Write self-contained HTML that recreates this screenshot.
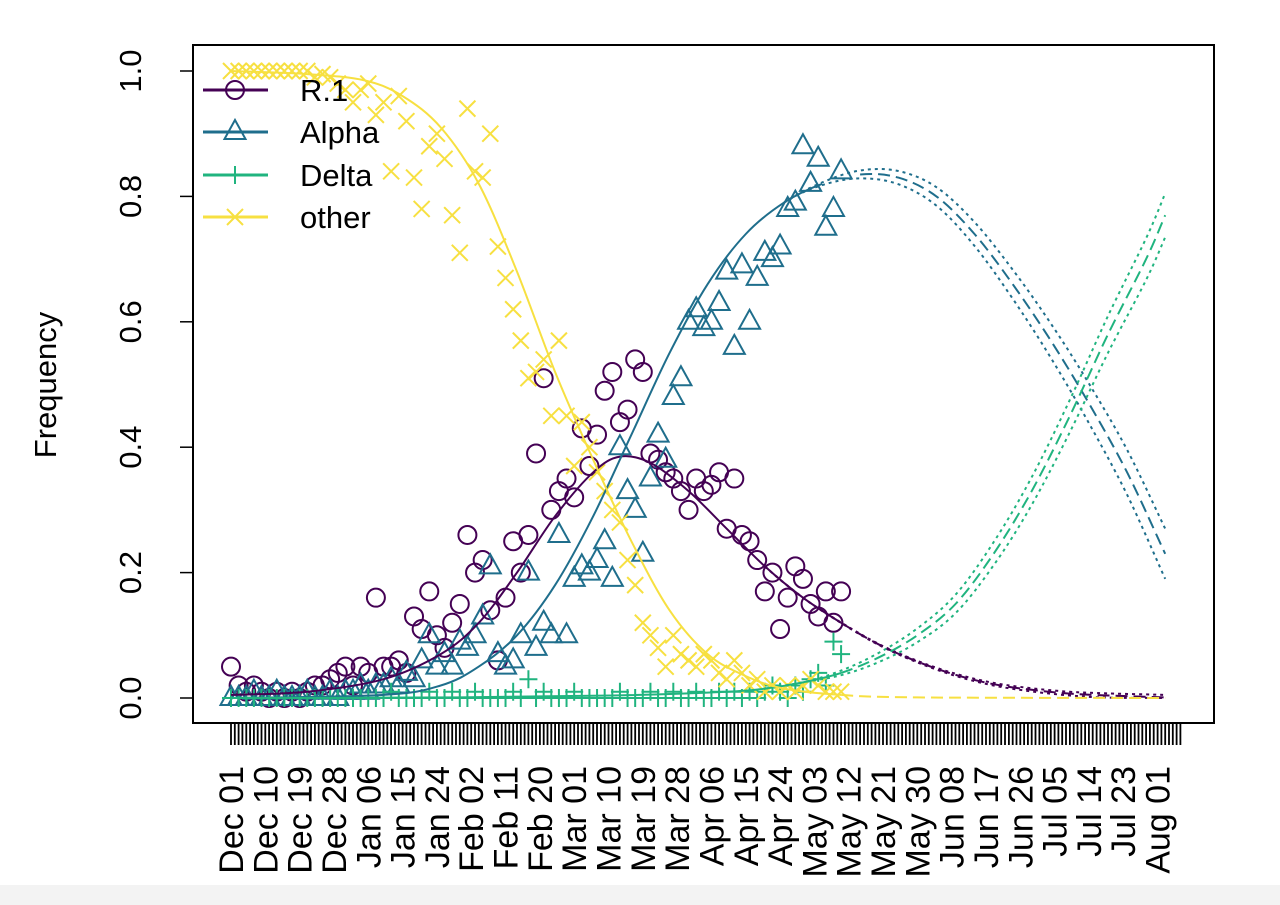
<!DOCTYPE html>
<html><head><meta charset="utf-8"><style>
html,body{margin:0;padding:0;background:#fff;}
svg{display:block;font-family:"Liberation Sans",Arial,sans-serif;}
</style></head><body>
<svg id="chart" width="1280" height="905" viewBox="0 0 1280 905" xmlns="http://www.w3.org/2000/svg">
<rect x="0" y="0" width="1280" height="905" fill="#fff"/>
<rect x="0" y="885" width="1280" height="20" fill="#f3f3f3"/>
<g id="plot"></g>
<rect x="193" y="45" width="1021" height="678" fill="none" stroke="#000" stroke-width="2"/>
<g id="axes"></g>
<text x="56" y="385" font-size="31" text-anchor="middle" transform="rotate(-90 56 385)">Frequency</text>
<g id="legend"></g>
</svg>
<script>
const yTicks=[0,0.2,0.4,0.6,0.8,1.0];
const yTickLabels=["0.0","0.2","0.4","0.6","0.8","1.0"];
const xLabels=["Dec 01","Dec 10","Dec 19","Dec 28","Jan 06","Jan 15","Jan 24","Feb 02","Feb 11","Feb 20","Mar 01","Mar 10","Mar 19","Mar 28","Apr 06","Apr 15","Apr 24","May 03","May 12","May 21","May 30","Jun 08","Jun 17","Jun 26","Jul 05","Jul 14","Jul 23","Aug 01"];
const ptDays=[0,2,4,6,8,10,12,14,16,18,20,22,24,26,28,30,32,34,36,38,40,42,44,46,48,50,52,54,56,58,60,62,64,66,68,70,72,74,76,78,80,82,84,86,88,90,92,94,96,98,100,102,104,106,108,110,112,114,116,118,120,122,124,126,128,130,132,134,136,138,140,142,144,146,148,150,152,154,156,158,160];
const r1Obs=[0.05,0.02,0.01,0.02,0.01,0,0.01,0,0.01,0,0.01,0.02,0.02,0.03,0.04,0.05,0.02,0.05,0.04,0.16,0.05,0.05,0.06,0.04,0.13,0.11,0.17,0.1,0.08,0.12,0.15,0.26,0.2,0.22,0.14,0.06,0.16,0.25,0.2,0.26,0.39,0.51,0.3,0.33,0.35,0.32,0.43,0.37,0.42,0.49,0.52,0.44,0.46,0.54,0.52,0.39,0.38,0.36,0.35,0.33,0.3,0.35,0.33,0.34,0.36,0.27,0.35,0.26,0.25,0.22,0.17,0.2,0.11,0.16,0.21,0.19,0.15,0.13,0.17,0.12,0.17];
const alphaObs=[0,0,0,0.01,0,0,0.01,0,0,0,0.01,0,0,0.01,0,0.01,0.01,0.02,0.01,0.02,0.02,0.03,0.02,0.04,0.03,0.06,0.1,0.05,0.07,0.05,0.09,0.08,0.1,0.13,0.21,0.07,0.05,0.06,0.1,0.2,0.08,0.12,0.1,0.26,0.1,0.19,0.21,0.2,0.22,0.25,0.19,0.4,0.33,0.3,0.23,0.35,0.42,0.38,0.48,0.51,0.6,0.62,0.59,0.6,0.63,0.68,0.56,0.69,0.6,0.67,0.71,0.7,0.72,0.78,0.79,0.88,0.82,0.86,0.75,0.78,0.84];
const deltaObs=[0,0,0,0,0,0,0,0,0,0,0,0,0,0,0,0,0,0,0,0,0,0.01,0,0,0,0,0.01,0,0,0.01,0,0,0.01,0,0,0,0,0.01,0,0.03,0,0.01,0,0,0,0.01,0,0,0,0,0,0.01,0,0,0,0.01,0,0,0.01,0,0,0.01,0,0,0.01,0,0.01,0,0.01,0,0.01,0.02,0.01,0,0.02,0.01,0.03,0.04,0.02,0.09,0.07];
const otherObs=[1,1,1,1,1,1,1,1,1,1,1,0.99,0.995,0.99,0.98,0.97,0.95,0.97,0.98,0.93,0.95,0.84,0.96,0.92,0.83,0.78,0.88,0.9,0.86,0.77,0.71,0.94,0.84,0.83,0.9,0.72,0.67,0.62,0.57,0.51,0.52,0.54,0.45,0.57,0.45,0.37,0.44,0.4,0.36,0.33,0.3,0.28,0.22,0.18,0.12,0.1,0.08,0.05,0.1,0.07,0.06,0.05,0.07,0.06,0.04,0.03,0.06,0.04,0.02,0.03,0.01,0.02,0.01,0.02,0.01,0.02,0.03,0.02,0.01,0.01,0.01];
const r1FitDays=[0,20,40,55,65,75,85,95,102,110,120,130,140,150,160,170,180,190,200,210,220,230,245];
const r1Fit=[0.005,0.01,0.03,0.07,0.12,0.2,0.29,0.36,0.385,0.375,0.33,0.27,0.21,0.16,0.12,0.085,0.058,0.037,0.022,0.013,0.007,0.004,0.001];
const alphaFitDays=[0,40,55,65,75,85,95,105,115,125,135,145,155,165,175,185,195,205,215,225,235,245];
const alphaFit=[0,0.005,0.02,0.05,0.1,0.18,0.29,0.42,0.55,0.66,0.74,0.79,0.82,0.835,0.83,0.8,0.74,0.66,0.57,0.47,0.36,0.23];
const deltaFitDays=[0,60,100,130,140,150,160,170,180,190,200,210,220,230,240,245];
const deltaFit=[0,0.001,0.004,0.01,0.015,0.025,0.04,0.065,0.1,0.15,0.23,0.33,0.45,0.58,0.7,0.77];
const otherFitDays=[0,20,35,45,55,65,75,85,95,105,115,125,135,145,160,180,245];
const otherFit=[1,0.995,0.985,0.96,0.91,0.82,0.68,0.52,0.38,0.25,0.14,0.07,0.035,0.015,0.005,0.001,0];

const NS="http://www.w3.org/2000/svg";
const X0=231, PXD=3.813;
function sx(d){return X0+PXD*d;}
function sy(v){return 698-627*v;}
const plot=document.getElementById('plot');
const axes=document.getElementById('axes');
function mk(tag,attrs,parent){const e=document.createElementNS(NS,tag);for(const k in attrs)e.setAttribute(k,attrs[k]);parent.appendChild(e);return e;}
const C={r1:"#440154",alpha:"#1f6e8c",delta:"#20b47f",other:"#f7e041"};

function marker(type,x,y,col,parent){
  let e;
  if(type==='circle'){e=mk('circle',{cx:x,cy:y,r:9,fill:'none',stroke:col,'stroke-width':2},parent);}
  else if(type==='tri'){e=mk('path',{d:`M${x},${y-12} L${x+10.5},${y+7} L${x-10.5},${y+7}Z`,fill:'none',stroke:col,'stroke-width':2},parent);}
  else if(type==='plus'){e=mk('path',{d:`M${x-9},${y}H${x+9}M${x},${y-9}V${y+9}`,fill:'none',stroke:col,'stroke-width':2},parent);}
  else {e=mk('path',{d:`M${x-8},${y-8}L${x+8},${y+8}M${x-8},${y+8}L${x+8},${y-8}`,fill:'none',stroke:col,'stroke-width':2},parent);}
  return e;
}
function pathFrom(days,vals,off,fromD,toD){
  const pts=[];
  for(let i=0;i<days.length;i++){
    const v=Math.max(0,vals[i]+off*(days[i]>150?(days[i]-150)/95:0));
    pts.push([sx(days[i]),sy(v),days[i]]);
  }
  let s='';let started=false;
  for(let i=0;i<pts.length-1;i++){
    if(pts[i][2]<fromD-1e-9||pts[i+1][2]>toD+1e-9)continue;
    const p0=pts[Math.max(0,i-1)],p1=pts[i],p2=pts[i+1],p3=pts[Math.min(pts.length-1,i+2)];
    if(!started){s+=`M${p1[0].toFixed(1)},${p1[1].toFixed(1)}`;started=true;}
    const c1x=p1[0]+(p2[0]-p0[0])/6,c1y=p1[1]+(p2[1]-p0[1])/6;
    const c2x=p2[0]-(p3[0]-p1[0])/6,c2y=p2[1]-(p3[1]-p1[1])/6;
    s+=`C${c1x.toFixed(1)},${c1y.toFixed(1)} ${c2x.toFixed(1)},${c2y.toFixed(1)} ${p2[0].toFixed(1)},${p2[1].toFixed(1)}`;
  }
  return s;
}
const series=[["r1",r1Obs,'circle'],["alpha",alphaObs,'tri'],["delta",deltaObs,'plus'],["other",otherObs,'x']];
for(const [k,arr,t] of series){
  const g=mk('g',{},plot);
  
  
  for(let i=0;i<arr.length;i++){
    const m=marker(t,sx(ptDays[i]),sy(arr[i]),C[k],g);
    
    
  }
}
const fits=[["r1",r1FitDays,r1Fit,0.004],["alpha",alphaFitDays,alphaFit,0.04],["delta",deltaFitDays,deltaFit,0.035],["other",otherFitDays,otherFit,0]];
for(const [k,d,v,band] of fits){
  const g=mk('g',{fill:'none',stroke:C[k],'stroke-width':2},plot);
  
  
  mk('path',{d:pathFrom(d,v,0,0,160)},g);
  mk('path',{d:pathFrom(d,v,0,160,250),'stroke-dasharray':'12,6'},g);
  if(band>0){
    mk('path',{d:pathFrom(d,v,band,140,250),'stroke-dasharray':'3,4'},g);
    mk('path',{d:pathFrom(d,v,-band,140,250),'stroke-dasharray':'3,4'},g);
  }
}
for(let i=0;i<yTicks.length;i++){
  const y=sy(yTicks[i]);
  const t=mk('line',{x1:180,x2:193,y1:y,y2:y,stroke:'#000','stroke-width':1.5},axes);
  
  
  const l=mk('text',{x:141,y:y,'font-size':31,'text-anchor':'middle',transform:`rotate(-90 141 ${y})`},axes);
  l.textContent=yTickLabels[i];
  
  
}
let tp='';
for(let d=0;d<=249;d++){tp+=`M${sx(d).toFixed(1)},723V745`;}
const tk=mk('path',{d:tp,stroke:'#000','stroke-width':1.8},axes);


for(let i=0;i<xLabels.length;i++){
  const x=sx(i*9)+12;
  const l=mk('text',{x:x,y:766,'font-size':34,'text-anchor':'end',transform:`rotate(-90 ${x} 766)`},axes);
  l.textContent=xLabels[i];
  
  
}
const leg=document.getElementById('legend');
const legItems=[["R.1","r1",'circle',90],["Alpha","alpha",'tri',132],["Delta","delta",'plus',175],["other","other",'x',217]];
for(const [lab,k,t,y] of legItems){
  const g=mk('g',{},leg);
  
  
  mk('line',{x1:203,x2:268,y1:y,y2:y,stroke:C[k],'stroke-width':3},g);
  marker(t,235,y,C[k],g);
  const tx=mk('text',{x:300,y:y+11,'font-size':31},g);
  tx.textContent=lab;
}
</script>
</body></html>
